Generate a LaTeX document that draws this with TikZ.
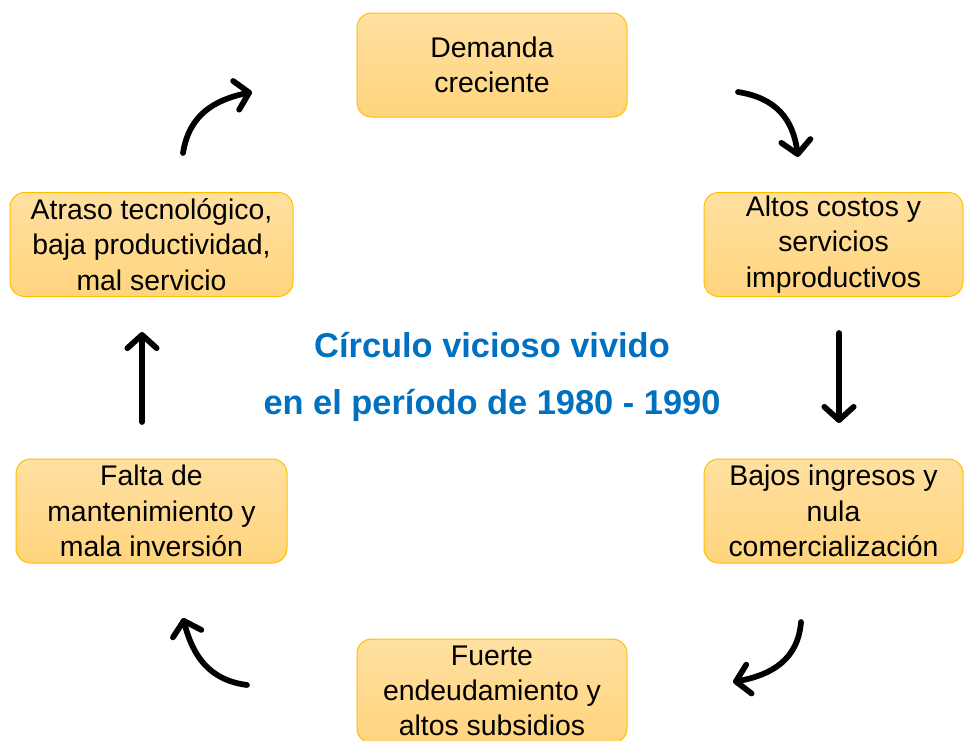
\documentclass[tikz,border=0pt]{standalone}
\usepackage{fontspec}
\setmainfont{Liberation Sans}
\usetikzlibrary{arrows.meta}

\definecolor{cajaborde}{RGB}{255,192,0}
\definecolor{cajaarriba}{RGB}{255,224,160}
\definecolor{cajaabajo}{RGB}{255,212,126}
\definecolor{azultitulo}{RGB}{0,112,192}

\begin{document}
\begin{tikzpicture}[x=0.75pt,y=0.75pt,yscale=-1,xscale=1,
  caja/.style={draw=cajaborde, line width=0.75pt, rounded corners=11pt, top color=cajaarriba, bottom color=cajaabajo, minimum height=78pt, align=center, inner sep=0.75pt, font=\fontsize{21.3}{26.5}\selectfont},
  flecha/.style={line width=4.3pt, line cap=round, -{Straight Barb[round,length=10pt,width=22pt]}},
  rotulo/.style={anchor=base, text=azultitulo, inner sep=0.75pt, font=\bfseries\fontsize{25.8}{30}\selectfont}]
%set diagram left start at 0, and has height of 740
\path[fill=white, use as bounding box] (0,0) rectangle (964,740);

%Rounded Rect [id:caja1] 
\node[caja, minimum width=202.5pt] (demanda) at (492,65) {Demanda\\creciente};
%Rounded Rect [id:caja2] 
\node[caja, minimum width=194.25pt] (costos) at (833.5,244.5) {Altos costos y\\servicios\\improductivos};
%Rounded Rect [id:caja3] 
\node[caja, minimum width=194.25pt] (ingresos) at (833.5,511) {Bajos ingresos y\\nula\\comercialización};
%Rounded Rect [id:caja4] 
\node[caja, minimum width=202.5pt] (deuda) at (492,691) {Fuerte\\endeudamiento y\\altos subsidios};
%Rounded Rect [id:caja5] 
\node[caja, minimum width=203.25pt] (mantenimiento) at (151.5,511) {Falta de\\mantenimiento y\\mala inversión};
%Rounded Rect [id:caja6] 
\node[caja, minimum width=212.25pt] (atraso) at (151.5,244.5) {Atraso tecnológico,\\baja productividad,\\mal servicio};

%Curve Lines [id:flecha1] 
\coordinate (f1a) at (183,153);
\coordinate (f1b) at (252,92);
\draw[flecha] (f1a) .. controls +(6,-38) and +(-38,8) .. (f1b);
%Curve Lines [id:flecha2] 
\coordinate (f2a) at (738,92);
\coordinate (f2b) at (798,157);
\draw[flecha] (f2a) .. controls +(38,6) and +(-5,-38) .. (f2b);
%Straight Lines [id:flecha3] 
\coordinate (f3a) at (839,333);
\coordinate (f3b) at (839,423);
\draw[flecha] (f3a) -- (f3b);
%Curve Lines [id:flecha4] 
\coordinate (f4a) at (801,622);
\coordinate (f4b) at (733,682);
\draw[flecha] (f4a) .. controls +(-3,38) and +(38,-7) .. (f4b);
%Curve Lines [id:flecha5] 
\coordinate (f5a) at (247,685);
\coordinate (f5b) at (183,618);
\draw[flecha] (f5a) .. controls +(-38,-5) and +(10,38) .. (f5b);
%Straight Lines [id:flecha6] 
\coordinate (f6a) at (142,422);
\coordinate (f6b) at (142,332);
\draw[flecha] (f6a) -- (f6b);

% Text Node
\node[rotulo] (titulo1) at (492,357) {Círculo vicioso vivido};
\node[rotulo] (titulo2) at (492,414) {en el período de 1980 - 1990};
\end{tikzpicture}
\end{document}
